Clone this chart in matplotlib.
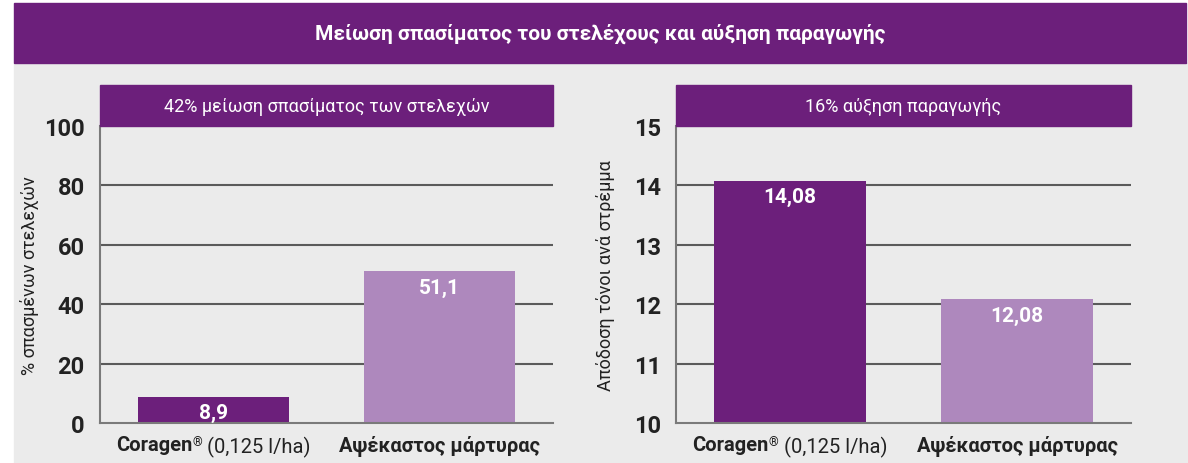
import matplotlib.pyplot as plt
from matplotlib.patches import Rectangle

plt.rcParams['font.family'] = ['Roboto', 'DejaVu Sans']

# data
categories = ['Coragen', 'Αψέκαστος μάρτυρας']
broken = [8.9, 51.1]
yield_t = [14.08, 12.08]
broken_labels = ['8,9', '51,1']
yield_labels = ['14,08', '12,08']

title = 'Μείωση σπασίματος του στελέχους και αύξηση παραγωγής'
sub_left = '42% μείωση σπασίματος των στελεχών'
sub_right = '16% αύξηση παραγωγής'
ylab_left = '% σπασμένων στελεχών'
ylab_right = 'Απόδοση τόνοι ανά στρέμμα'

dark = '#6c1f7b'
light = '#ae88bd'
bg = '#ebebeb'
grid_c = '#5a5a5a'
txt = '#222222'

W, H = 1188, 464
fig = plt.figure(figsize=(W / 100, H / 100), dpi=100)
fig.patch.set_facecolor('white')

# background panel and header
fig.add_artist(Rectangle((14 / W, 0), 1 - 14 / W, 1 - 64 / H,
                         transform=fig.transFigure, color=bg, zorder=0))
fig.add_artist(Rectangle((14 / W, 1 - 64 / H), (1186 - 14) / W, 60 / H,
                         transform=fig.transFigure, color=dark, zorder=0))
fig.text(600 / W, 1 - 34 / H, title, color='white', fontsize=15,
         fontweight='bold', ha='center', va='center')

mixed = []


def panel(rect, vals, labels, ylim, ticks, sub, ylab):
    ax = fig.add_axes(rect)
    ax.set_facecolor('none')
    x = [0, 1]
    ax.bar(x, vals, width=0.667, color=[dark, light], zorder=3)
    ax.set_xlim(-0.5, 1.5)
    ax.set_ylim(*ylim)
    ax.set_yticks(ticks)
    ax.set_yticklabels([str(t) for t in ticks], fontsize=17, fontweight='bold',
                       color=txt)
    ax.tick_params(axis='y', length=0, pad=11)
    ax.set_xticks([])
    for t in ticks[1:-1]:
        ax.axhline(t, color=grid_c, lw=1.5, zorder=1)
    for s in ['top', 'right']:
        ax.spines[s].set_visible(False)
    for s in ['left', 'bottom']:
        ax.spines[s].set_color('#7a7a7a')
        ax.spines[s].set_linewidth(1.5)
        ax.spines[s].set_zorder(4)
    ax.set_ylabel(ylab, fontsize=13, color=txt)
    ax.yaxis.set_label_coords(-0.135, 0.5)
    step = ylim[1] - ylim[0]
    for xi, v, lab in zip(x, vals, labels):
        ax.text(xi, v - step * 0.022, lab, color='white', fontsize=15,
                fontweight='bold', ha='center', va='top', zorder=5)
    # subtitle box above the plot area
    ax.add_patch(Rectangle((0, 1), 1, 41 / 297, transform=ax.transAxes,
                           color=dark, clip_on=False, zorder=5))
    ax.text(0.5, 1 + 20.5 / 297, sub, transform=ax.transAxes, color='white',
            fontsize=13, ha='center', va='center', zorder=6)
    # category labels, first one with mixed weights
    t1 = ax.annotate(categories[0], xy=(0, 0), xycoords=('data', 'axes fraction'),
                     xytext=(0, -9), textcoords='offset points',
                     fontsize=14.5, fontweight='bold', ha='left', va='top',
                     color=txt)
    ax.annotate('®', xy=(1, 1), xycoords=t1, xytext=(0, 0),
                textcoords='offset points', fontsize=9, ha='left',
                va='top', color=txt)
    t3 = ax.annotate(' (0,125 l/ha)', xy=(1, 1), xycoords=t1, xytext=(7, 0),
                     textcoords='offset points', fontsize=14.5, ha='left',
                     va='top', color=txt)
    mixed.append((t1, t3))
    ax.annotate(categories[1], xy=(1, 0), xycoords=('data', 'axes fraction'),
                xytext=(0, -9), textcoords='offset points', fontsize=14.5,
                fontweight='bold', ha='center', va='top', color=txt)
    return ax


panel([100 / W, 40 / H, 453 / W, 297 / H], broken, broken_labels,
      (0, 100), [0, 20, 40, 60, 80, 100], sub_left, ylab_left)
panel([676 / W, 40 / H, 455 / W, 297 / H], yield_t, yield_labels,
      (10, 15), [10, 11, 12, 13, 14, 15], sub_right, ylab_right)

# center the mixed label under its bar
fig.canvas.draw()
r = fig.canvas.get_renderer()
for t1, t3 in mixed:
    w = t3.get_window_extent(r).x1 - t1.get_window_extent(r).x0
    t1.xyann = (-w / 2 * 72 / 100, -9)

fig.savefig('out.png', dpi=100)
